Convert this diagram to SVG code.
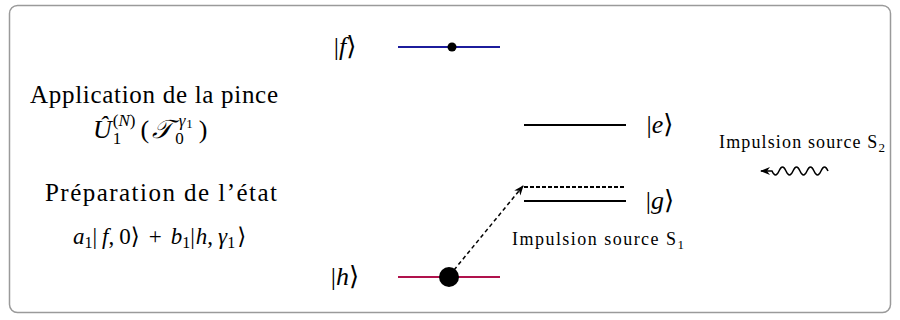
<svg xmlns="http://www.w3.org/2000/svg" width="900" height="320" viewBox="0 0 900 320">
<style>
text{font-family:'Liberation Serif','DejaVu Serif',serif;fill:#000}
.i{font-style:italic}
.lvl{stroke-width:2;fill:none}
</style>
<defs>
<marker id="arr" viewBox="0 0 10 10" refX="9" refY="5" markerWidth="10" markerHeight="10" orient="auto" markerUnits="userSpaceOnUse">
<path d="M0,1 L10,5 L0,9 L3,5 z" fill="#000"/>
</marker>
</defs>
<rect x="9.5" y="5.5" width="881" height="307" rx="8" fill="#fff" stroke="#9a9a9a" stroke-width="1.5"/>

<g id="text-left" font-family="Liberation Serif, DejaVu Serif, serif">
<text x="154" y="103" font-size="25" text-anchor="middle" textLength="248">Application de la pince</text>
<text x="93" y="138" font-size="26"><tspan class="i">Û</tspan><tspan font-size="17" dx="1" dy="6">1</tspan><tspan font-size="17" dx="-8.5" dy="-18">(<tspan class="i">N</tspan>)</tspan><tspan dx="5" dy="12">(</tspan><tspan class="i" dx="3">𝒯</tspan><tspan font-size="17" dx="3" dy="6">0</tspan><tspan font-size="17" dx="-5" dy="-18"><tspan class="i">γ</tspan><tspan font-size="13" dx="1" dy="2">1</tspan></tspan><tspan dx="6" dy="10">)</tspan></text>
<text x="161" y="201" font-size="25" text-anchor="middle" textLength="232">Préparation de l’état</text>
<text x="73" y="244" font-size="23"><tspan class="i">a</tspan><tspan font-size="16" dy="4">1</tspan><tspan dy="-4">|</tspan><tspan class="i" dx="5">f</tspan>,<tspan dx="5">0⟩</tspan><tspan dx="9">+</tspan><tspan class="i" dx="9">b</tspan><tspan font-size="16" dy="4">1</tspan><tspan dy="-4">|</tspan><tspan class="i" dx="1">h</tspan>,<tspan class="i" dx="5">γ</tspan><tspan font-size="16" dy="4">1</tspan><tspan dx="2" dy="-4">⟩</tspan></text>
</g>

<g id="level-f" font-family="Liberation Serif, DejaVu Serif, serif">
<line class="lvl" x1="398" y1="47" x2="500" y2="47" stroke="#1c1c9c"/>
<circle cx="452" cy="47" r="4.5" fill="#000"/>
<text x="345" y="55" font-size="26" text-anchor="middle">|<tspan class="i">f</tspan>⟩</text>
</g>

<g id="level-e" font-family="Liberation Serif, DejaVu Serif, serif">
<line class="lvl" x1="524" y1="125" x2="626" y2="125" stroke="#000"/>
<text x="660" y="133" font-size="26" text-anchor="middle">|<tspan class="i">e</tspan>⟩</text>
</g>

<g id="level-g" font-family="Liberation Serif, DejaVu Serif, serif">
<line class="lvl" x1="524" y1="187" x2="626" y2="187" stroke="#000" stroke-dasharray="4,2"/>
<line class="lvl" x1="524" y1="201" x2="626" y2="201" stroke="#000"/>
<text x="660" y="209" font-size="26" text-anchor="middle">|<tspan class="i">g</tspan>⟩</text>
<text x="512" y="245" font-size="18" textLength="172">Impulsion source S<tspan font-size="13" dy="4">1</tspan></text>
</g>

<g id="level-h" font-family="Liberation Serif, DejaVu Serif, serif">
<line class="lvl" x1="398" y1="277" x2="500" y2="277" stroke="#b0124c"/>
<circle cx="449" cy="277" r="10" fill="#000"/>
<text x="345" y="285" font-size="26" text-anchor="middle">|<tspan class="i">h</tspan>⟩</text>
</g>

<g id="source-s2" font-family="Liberation Serif, DejaVu Serif, serif">
<text x="719" y="148" font-size="18" textLength="166">Impulsion source S<tspan font-size="13" dy="4">2</tspan></text>
</g>

<g id="connectors">
<line x1="454" y1="270" x2="523" y2="186" stroke="#000" stroke-width="1.5" stroke-dasharray="4,3" marker-end="url(#arr)"/>
<path d="M828,171 q-3.5,-8 -7,0 q-3.5,8 -7,0 q-3.5,-8 -7,0 q-3.5,8 -7,0 q-3.5,-8 -7,0 q-3.5,8 -7,0 q-3.5,-8 -7,0 q-3.5,8 -7,0 L761,171" fill="none" stroke="#000" stroke-width="1.5" marker-end="url(#arr)"/>
</g>
</svg>
